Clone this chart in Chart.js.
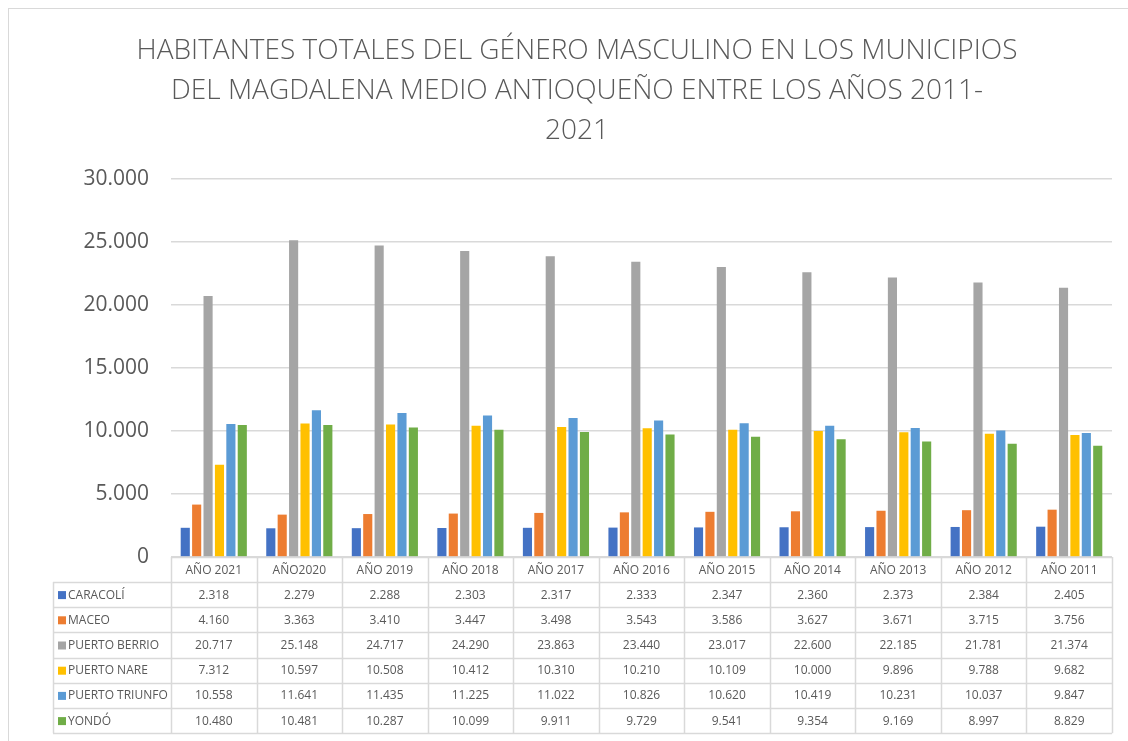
<!DOCTYPE html>
<html>
<head>
<meta charset="utf-8">
<script src="https://cdn.jsdelivr.net/npm/chart.js@4"></script>
<style>
  html, body { margin: 0; padding: 0; background: #fff; }
  #wrap { position: relative; width: 1128px; height: 741px; }
</style>
</head>
<body>
<div id="wrap"><canvas id="chart"></canvas></div>
<script>
// === Data ===
const years = ['AÑO 2021', 'AÑO2020', 'AÑO 2019', 'AÑO 2018', 'AÑO 2017', 'AÑO 2016',
  'AÑO 2015', 'AÑO 2014', 'AÑO 2013', 'AÑO 2012', 'AÑO 2011'];

const municipios = ['CARACOLÍ', 'MACEO', 'PUERTO BERRIO', 'PUERTO NARE', 'PUERTO TRIUNFO', 'YONDÓ'];

const caracoli = [2318, 2279, 2288, 2303, 2317, 2333, 2347, 2360, 2373, 2384, 2405];
const maceo = [4160, 3363, 3410, 3447, 3498, 3543, 3586, 3627, 3671, 3715, 3756];
const puertoBerrio = [20717, 25148, 24717, 24290, 23863, 23440, 23017, 22600, 22185, 21781, 21374];
const puertoNare = [7312, 10597, 10508, 10412, 10310, 10210, 10109, 10000, 9896, 9788, 9682];
const puertoTriunfo = [10558, 11641, 11435, 11225, 11022, 10826, 10620, 10419, 10231, 10037, 9847];
const yondo = [10480, 10481, 10287, 10099, 9911, 9729, 9541, 9354, 9169, 8997, 8829];

const seriesValues = [caracoli, maceo, puertoBerrio, puertoNare, puertoTriunfo, yondo];
const seriesColors = ['#4472C4', '#ED7D31', '#A5A5A5', '#FFC000', '#5B9BD5', '#70AD47'];

const titleLines = [
  'HABITANTES TOTALES DEL GÉNERO MASCULINO EN LOS MUNICIPIOS',
  'DEL MAGDALENA MEDIO ANTIOQUEÑO ENTRE LOS AÑOS 2011-',
  '2021'
];

const textColor = '#595959';
const lineColor = '#d9d9d9';
const fontFamily = '"Open Sans", "Liberation Sans", sans-serif';

// thousands separator with a dot
function fmt(v) {
  return String(v).replace(/\B(?=(\d{3})+(?!\d))/g, '.');
}

// === Frame, title and data table under the plot ===
const dataTable = {
  id: 'dataTable',
  beforeDraw(chart) {
    const ctx = chart.ctx;
    ctx.save();
    ctx.strokeStyle = lineColor;
    ctx.lineWidth = 1;
    ctx.strokeRect(8.5, 8.5, 1300, 900);
    ctx.restore();
  },
  afterDraw(chart) {
    const ctx = chart.ctx;
    const area = chart.chartArea;
    const x = chart.scales.x;
    const left = area.left, right = area.right;
    const colW = (right - left) / years.length;
    const top = area.bottom;
    const headH = 25;
    const rowH = 25.2;
    const labelLeft = 53;
    const tableBottom = top + headH + rowH * municipios.length;

    ctx.save();

    // title, a bit right of centre like the original
    ctx.fillStyle = textColor;
    ctx.font = '300 28px ' + fontFamily;
    ctx.textAlign = 'center';
    ctx.textBaseline = 'middle';
    titleLines.forEach((line, i) => {
      ctx.fillText(line, 577, 51 + i * 40);
    });

    ctx.strokeStyle = lineColor;
    ctx.lineWidth = 1.5;

    // horizontal lines
    ctx.beginPath();
    ctx.moveTo(left, top + 0.5); ctx.lineTo(right, top + 0.5);
    for (let r = 0; r <= municipios.length; r++) {
      const y = Math.round(top + headH + rowH * r) + 0.5;
      ctx.moveTo(labelLeft, y); ctx.lineTo(right, y);
    }
    // vertical lines
    for (let c = 0; c <= years.length; c++) {
      const xx = Math.round(left + colW * c) + 0.5;
      ctx.moveTo(xx, top); ctx.lineTo(xx, tableBottom);
    }
    ctx.moveTo(labelLeft + 0.5, top + headH); ctx.lineTo(labelLeft + 0.5, tableBottom);
    ctx.stroke();

    // header labels
    ctx.fillStyle = textColor;
    ctx.font = '12px ' + fontFamily;
    ctx.textAlign = 'center';
    ctx.textBaseline = 'middle';
    years.forEach((yr, i) => {
      ctx.fillText(yr, x.getPixelForValue(i), top + headH / 2 + 1);
    });

    // rows
    municipios.forEach((name, r) => {
      const cy = top + headH + rowH * r + rowH / 2 + 0.5;
      ctx.fillStyle = seriesColors[r];
      ctx.fillRect(labelLeft + 5, cy - 4, 8, 8);
      ctx.fillStyle = textColor;
      ctx.textAlign = 'left';
      ctx.fillText(name, labelLeft + 15, cy);
      ctx.textAlign = 'center';
      seriesValues[r].forEach((v, i) => {
        ctx.fillText(fmt(v), x.getPixelForValue(i), cy);
      });
    });
    ctx.restore();
  }
};

const ctx = document.getElementById('chart').getContext('2d');

new Chart(ctx, {
  type: 'bar',
  data: {
    labels: years,
    datasets: municipios.map((name, i) => ({
      label: name,
      data: seriesValues[i],
      backgroundColor: seriesColors[i],
      borderWidth: 0,
      barPercentage: 0.8,
      categoryPercentage: 0.8
    }))
  },
  options: {
    responsive: true,
    maintainAspectRatio: false,
    animation: false,
    layout: {
      padding: { left: 9, right: 16, top: 179, bottom: 184 }
    },
    plugins: {
      legend: { display: false },
      tooltip: { enabled: false },
      title: { display: false }
    },
    scales: {
      x: {
        display: false
      },
      y: {
        min: 0,
        max: 30000,
        afterFit: s => { s.width = 162; },
        border: { display: false },
        grid: { color: lineColor, lineWidth: 1.5, drawTicks: false },
        ticks: {
          stepSize: 5000,
          padding: 22,
          color: textColor,
          font: { family: fontFamily, size: 21 },
          callback: v => fmt(v)
        }
      }
    }
  },
  plugins: [dataTable]
});
</script>
</body>
</html>
